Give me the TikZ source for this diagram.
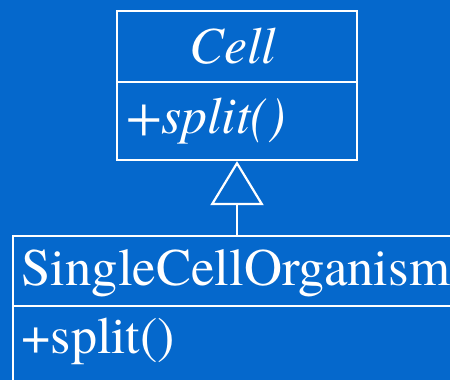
\documentclass[tikz,border=0pt]{standalone}
\usepackage{fontspec}
\setmainfont{texgyretermes}[Extension=.otf, UprightFont=*-regular, ItalicFont=*-italic, BoldFont=*-bold, BoldItalicFont=*-bolditalic]
\usetikzlibrary{arrows.meta}
\definecolor{slideblue}{RGB}{5,104,204}
\tikzset{
  umlpart/.style={draw=white, line width=2.2pt, rectangle, text=white, inner sep=0pt,
    font=\rmfamily\fontsize{52}{60}\selectfont},
  inherits/.style={draw=white, line width=2.2pt, -{Triangle[open, length=44pt, width=53pt]}}
}
\begin{document}
\begin{tikzpicture}[x=1pt, y=-1pt]
        % Background and clipping
        \fill[slideblue] (0,0) rectangle (450,380);
        \useasboundingbox (0,0) rectangle (450,380);
        \clip (0,0) rectangle (450,380);

        % Draw class boxes
        \node[umlpart, minimum width=240pt, minimum height=71pt] (cellname) at (237,46.5) {\hspace*{-8pt}\itshape Cell};
        \node[umlpart, minimum width=240pt, minimum height=78pt, text width=222pt, align=left] (cellops) at (237,121) {\itshape +split()};
        \node[umlpart, minimum width=467pt, minimum height=70pt, text width=450pt, align=left, text depth=6pt,
          font=\rmfamily\fontsize{52.7}{60}\selectfont] (orgname) at (246.5,271) {SingleCellOrganism};
        \node[umlpart, minimum width=467pt, minimum height=94pt, text width=450pt, align=left, text depth=35pt] (orgops) at (246.5,353) {+split()};

        % Draw generalization
        \draw[inherits] (cellops.south |- orgname.north) -- (cellops.south);
    \end{tikzpicture}
\end{document}
